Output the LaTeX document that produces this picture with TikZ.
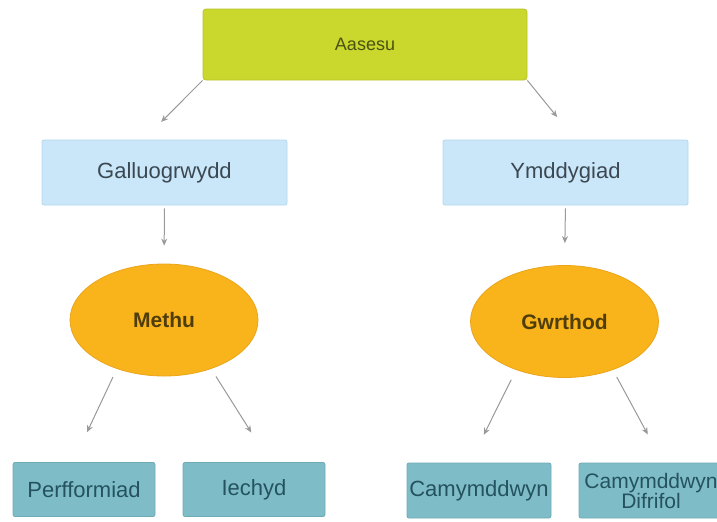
\documentclass[tikz,border=0pt]{standalone}
\usepackage{fontspec}
\setmainfont{Liberation Sans}
\usepackage{tikz}
\usetikzlibrary{calc}
\usetikzlibrary{arrows.meta}
\usetikzlibrary{shapes.geometric}
\definecolor{limefill}{HTML}{CAD72C}
\definecolor{limeline}{HTML}{B8C426}
\definecolor{limetext}{HTML}{4A5212}
\definecolor{skyfill}{HTML}{CAE7F9}
\definecolor{skyline}{HTML}{B4D6EC}
\definecolor{skytext}{HTML}{3B4852}
\definecolor{ambfill}{HTML}{F9B41C}
\definecolor{ambline}{HTML}{E9A41A}
\definecolor{ambtext}{HTML}{4F3E0C}
\definecolor{tealfill}{HTML}{7EBDC7}
\definecolor{tealline}{HTML}{6DAAB4}
\definecolor{tealtext}{HTML}{24525E}
\tikzset{topbox/.style={rectangle,rounded corners=1.5pt,fill=limefill,draw=limeline,
  minimum width=162pt,minimum height=35.5pt,text=limetext,font=\fontsize{9}{11}\selectfont}}
\tikzset{midbox/.style={rectangle,rounded corners=1pt,fill=skyfill,draw=skyline,
  minimum width=122.5pt,minimum height=32.5pt,text=skytext,font=\fontsize{11}{13}\selectfont}}
\tikzset{oval/.style={ellipse,fill=ambfill,draw=ambline,inner sep=0pt,
  minimum width=94pt,minimum height=56pt,text=ambtext,font=\bfseries\fontsize{10.5}{12}\selectfont}}
\tikzset{leafbox/.style={rectangle,rounded corners=1pt,fill=tealfill,draw=tealline,align=center,inner sep=1pt,
  minimum width=71pt,minimum height=27pt,text=tealtext,font=\fontsize{11}{10}\selectfont}}
\tikzset{arr/.style={-{Stealth[length=3.5pt,width=3pt]},gray!80,line width=0.5pt}}

\begin{document}
\begin{tikzpicture}[x=0.5pt,y=-0.5pt]
\useasboundingbox (0,0) rectangle (717,521);

\node[topbox] (A) at (365,44.5) {Aasesu};
\node[midbox] (G) at (164.5,172.5) {Galluogrwydd};
\node[midbox] (Y) at (565.5,172.5) {Ymddygiad};
\node[oval] (M) at (164,320) {Methu};
\node[oval] (W) at (564.5,321.5) {Gwrthod};
\node[leafbox] (P) at (84,489.5) {Perfformiad};
\node[leafbox] (I) at (254,489.5) {Iechyd};
\node[leafbox,minimum width=72pt,minimum height=27.5pt] (C) at (479,490.5) {Camymddwyn};
\node[leafbox,minimum width=72pt,minimum height=27.5pt,font=\fontsize{10.5}{10}\selectfont] (D) at (651,490.5) {Camymddwyn\\Difrifol};

\draw[arr,shorten >=12.5pt] (A.south west) -- ($(G.north)+(-21,0)$);
\draw[arr,shorten >=14.5pt] (A.south east) -- ($(Y.north)+(10,0)$);
\draw[arr,shorten <=1.5pt,shorten >=9pt] (G.south) -- (M.north);
\draw[arr,shorten <=1.5pt,shorten >=11pt] (Y.south) -- (W.north);
\draw[arr,shorten <=4.5pt,shorten >=16.5pt] (M.-134) -- ($(P.north)+(-11,0)$);
\draw[arr,shorten <=4.5pt,shorten >=17.5pt] (M.-46) -- ($(I.north)+(16,0)$);
\draw[arr,shorten <=5.5pt,shorten >=15.5pt] (W.-135) -- ($(C.north)+(-9,0)$);
\draw[arr,shorten <=4pt,shorten >=16pt] (W.-45) -- ($(D.north)+(12,0)$);

\end{tikzpicture}
\end{document}
